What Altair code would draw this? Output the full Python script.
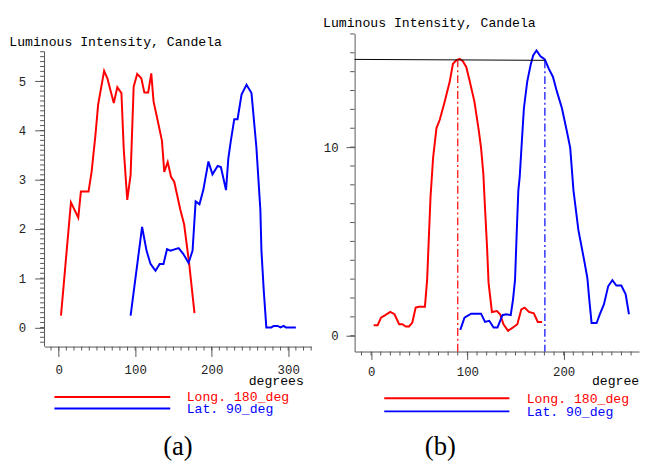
import altair as alt
import pandas as pd

# ---------------- data ----------------
# panel (a)
a_long_x = [3, 16, 25.6, 29, 39, 43, 48, 51.6, 59.4, 63.6, 72, 76.6, 82, 85, 89.6, 94, 98,
            102.6, 108, 112, 117, 121, 124, 128.6, 135, 138, 142.5, 146.8, 151, 159, 164,
            170.6, 177.5]
a_long_y = [0.24, 2.54, 2.23, 2.76, 2.76, 3.16, 3.9, 4.53, 5.21, 5.06, 4.56, 4.88, 4.76,
            3.63, 2.59, 3.1, 4.89, 5.15, 5.06, 4.77, 4.77, 5.16, 4.59, 4.26, 3.79, 3.16,
            3.36, 3.06, 2.96, 2.39, 2.09, 1.29, 0.29]
a_lat_x = [94, 109, 114.8, 120, 126.5, 132, 137, 141.6, 146, 156.8, 163, 169.7, 175, 179,
           184, 189, 195.7, 201, 207.8, 212, 218.7, 221.7, 225, 229.5, 233.8, 239, 245.5,
           252, 258.4, 263.6, 265, 268, 271.4, 278, 281, 286, 290, 294, 297, 310]
a_lat_y = [0.24, 2.04, 1.56, 1.29, 1.15, 1.29, 1.29, 1.59, 1.56, 1.61, 1.49, 1.31, 1.56,
           2.56, 2.5, 2.79, 3.37, 3.11, 3.28, 3.26, 2.79, 3.43, 3.79, 4.23, 4.23, 4.73,
           4.93, 4.76, 3.66, 2.39, 1.56, 0.76, 0.0, 0.0, 0.03, 0.03, 0.0, 0.03, 0.0, 0.0]

# panel (b)
b_long_x = [2.7, 6.8, 10.3, 14.7, 19.9, 24.3, 29.1, 32.5, 36, 39.4, 42.8, 46.3, 49.7, 55.9,
            58.2, 60, 61.7, 64.4, 67.9, 71.3, 76.4, 81.6, 85, 88.5, 91.9, 95.3, 98.8,
            102.2, 107.3, 111.7, 114.2, 116.6, 117.9, 120.4, 122, 125.5, 130.7, 134,
            137.5, 142.3, 147.4, 151.9, 156, 159.5, 163.9, 169, 173.1, 177.6]
b_long_y = [0.56, 0.56, 0.96, 1.09, 1.26, 1.14, 0.61, 0.61, 0.49, 0.49, 0.70, 1.49, 1.54,
            1.54, 2.97, 5.24, 7.34, 9.44, 11.01, 11.45, 12.41, 13.46, 14.42, 14.6, 14.68,
            14.55, 14.25, 13.55, 12.41, 10.93, 9.96, 8.57, 7.17, 4.72, 2.8, 1.26, 1.31,
            1.14, 0.61, 0.26, 0.44, 0.61, 1.40, 1.49, 1.26, 1.19, 0.73, 0.73]
b_lat_x = [92.6, 97, 103.9, 114.2, 118.3, 122.7, 127.2, 131.3, 136.4, 140.5, 145, 147.4,
           149.5, 151.2, 152.9, 154.3, 157, 158.7, 162.1, 165.6, 168.3, 171.8, 175.9,
           180.4, 184.5, 188.9, 193, 198.2, 203.3, 206.8, 210.2, 215.3, 221.2, 224.6,
           226.6, 229, 234.2, 237.6, 241.8, 246.2, 250.6, 254.7, 259.9, 264.4, 267.8]
b_lat_y = [0.31, 0.96, 1.17, 1.17, 0.73, 0.79, 0.44, 0.44, 1.09, 1.14, 1.09, 1.92, 2.97,
           5.42, 7.69, 8.39, 10.67, 12.06, 13.46, 14.34, 14.86, 15.12, 14.82, 14.65,
           14.16, 13.72, 12.94, 12.06, 10.84, 9.96, 7.69, 5.6, 4.02, 3.06, 1.92, 0.67,
           0.67, 1.14, 1.66, 2.62, 2.94, 2.66, 2.66, 2.19, 1.14]

# reference lines in panel (b)
b_hline_x = [-17.13, 181]
b_hline_y = [14.65, 14.6]
b_vline_x = [90, 180.5]
b_vline_top = [14.65, 14.6]

series_names = ["Long. 180_deg", "Lat. 90_deg"]
a_y_ticks = [0, 1, 2, 3, 4, 5]
a_x_ticks = [0, 100, 200, 300]
b_y_ticks = [0, 10]
b_x_ticks = [0, 100, 200]
title_text = "Luminous Intensity, Candela"
x_title_text = "degrees"

# ---------------- styling ----------------
MONO = "Liberation Mono"
SERIF = "Liberation Serif"
RED = "#ff0000"
BLUE = "#0000ff"
AXC = "#555555"


def text(s, x, y, color="black", size=13.3, font=MONO, align="left", baseline="middle", **kw):
    return alt.Chart().mark_text(text=s, font=font, fontSize=size, color=color,
                                 align=align, baseline=baseline, **kw).encode(
        x=alt.value(x), y=alt.value(y))


def hrule(x1, x2, y, color, width=2):
    return alt.Chart().mark_rule(color=color, strokeWidth=width).encode(
        x=alt.value(x1), x2=alt.value(x2), y=alt.value(y))


def ghost(x1, x2, y1, y2):
    return alt.Chart().mark_rect(opacity=0).encode(
        x=alt.value(x1), x2=alt.value(x2), y=alt.value(y1), y2=alt.value(y2))


def panel(long_x, long_y, lat_x, lat_y, W, H, xdom, ydom, xticks, yticks,
          xminor, yminor, ytick_major, ypad, xtick_major, xpad, ydomain_top, extra, decor):
    sx = alt.Scale(domain=xdom, nice=False, zero=False)
    sy = alt.Scale(domain=ydom, nice=False, zero=False)
    ax = alt.Axis(values=xticks, tickSize=xtick_major, labelPadding=xpad, title=None,
                  grid=False, domainColor=AXC, tickColor=AXC, labelFont=MONO,
                  labelFontSize=12.5, labelColor="#222", labelFlush=False, format="d")
    ay = alt.Axis(values=yticks, tickSize=ytick_major, labelPadding=ypad, title=None,
                  grid=False, domain=(ydomain_top is None), domainColor=AXC, tickColor=AXC,
                  labelFont=MONO, labelFontSize=12.5, labelColor="#222", format="d")
    X = lambda f: alt.X(f, scale=sx, axis=ax)
    Y = lambda f: alt.Y(f, scale=sy, axis=ay)

    df = pd.DataFrame({
        "x": long_x + lat_x,
        "y": long_y + lat_y,
        "s": [series_names[0]] * len(long_x) + [series_names[1]] * len(lat_x),
    })
    lines = alt.Chart(df).mark_line(strokeWidth=2).encode(
        x=X("x:Q"), y=Y("y:Q"),
        color=alt.Color("s:N", scale=alt.Scale(domain=series_names, range=[RED, BLUE]),
                        legend=None),
    )
    ym = alt.Chart(pd.DataFrame({"y": yminor})).mark_rule(color=AXC, strokeWidth=1).encode(
        x=alt.value(-4.5), x2=alt.value(0), y=Y("y:Q"))
    xm = alt.Chart(pd.DataFrame({"x": xminor})).mark_rule(color=AXC, strokeWidth=1).encode(
        y=alt.value(H), y2=alt.value(H + 4), x=X("x:Q"))
    layers = [lines, ym, xm]
    if ydomain_top is not None:
        dom = alt.Chart(pd.DataFrame({"y": [ydom[0]], "y1": [ydomain_top]})).mark_rule(
            color=AXC, strokeWidth=1).encode(x=alt.value(0), y=Y("y:Q"), y2="y1:Q")
        layers.append(dom)
    for e in extra:
        layers.append(e(X, Y))
    layers += decor
    return alt.layer(*layers).properties(width=W, height=H)


# ---------------- panel (a) ----------------
W_A, H_A = 270, 317
a_decor = [
    text(title_text, -35.7, 8.3),
    text(x_title_text, 206.7, 352),
    hrule(10, 127.3, 368, RED),
    hrule(10, 127.3, 379.6, BLUE),
    text(series_names[0], 144, 368.3, RED),
    text(series_names[1], 144, 380.3, BLUE),
    text("(a)", 135.1, 426.3, size=27, font=SERIF, align="center", baseline="alphabetic"),
    ghost(-37, -36, 100, 101),
    ghost(271, 272, 100, 101),
]
panel_a = panel(a_long_x, a_long_y, a_lat_x, a_lat_y, W_A, H_A,
                [-18.5, 330], [-0.389, 5.969], a_x_ticks, a_y_ticks,
                [i * 10 for i in range(-1, 34)], [round(i * 0.1, 1) for i in range(-3, 57)],
                10, 9, 10, 7.5, 5.6, [], a_decor)


# ---------------- panel (b) ----------------
W_B, H_B = 288, 322


def hline(X, Y):
    return alt.Chart(pd.DataFrame({"x": b_hline_x, "y": b_hline_y})).mark_line(
        color="black", strokeWidth=1).encode(x=X("x:Q"), y=Y("y:Q"))


def vline(i, color):
    def f(X, Y):
        d = pd.DataFrame({"x": [b_vline_x[i]], "y": [b_vline_top[i]], "y1": [-0.838]})
        return alt.Chart(d).mark_rule(color=color, strokeWidth=1.2,
                                      strokeDash=[8, 3, 2, 3]).encode(
            x=X("x:Q"), y=Y("y:Q"), y2="y1:Q")
    return f


b_decor = [
    text(title_text, -32, -10.7),
    # the reference cuts this label at the right edge of the picture
    text(x_title_text, 240.3, 352, limit=48.4, ellipsis="\u200b"),
    hrule(30, 156.7, 369.3, RED),
    hrule(30, 156.7, 382.6, BLUE),
    text(series_names[0], 174.3, 370, RED),
    text(series_names[1], 174.3, 383.3, BLUE),
    text("(b)", 86.8, 426.3, size=27, font=SERIF, align="center", baseline="alphabetic"),
    ghost(-42, -41, -22.7, -21.7),
]
panel_b = panel(b_long_x, b_long_y, b_lat_x, b_lat_y, W_B, H_B,
                [-17.13, 278.25], [-0.838, 16.02], b_x_ticks, b_y_ticks,
                [i * 10 for i in range(-1, 28)], list(range(0, 17)),
                8.7, 8, 8, 6.5, None, [hline, vline(0, RED), vline(1, BLUE)], b_decor)

chart = alt.hconcat(panel_a, panel_b, spacing=0).properties(
    padding=0, background="white"
).configure_view(stroke=None)

chart.save("out.html", embed_options={"renderer": "svg", "actions": False})
